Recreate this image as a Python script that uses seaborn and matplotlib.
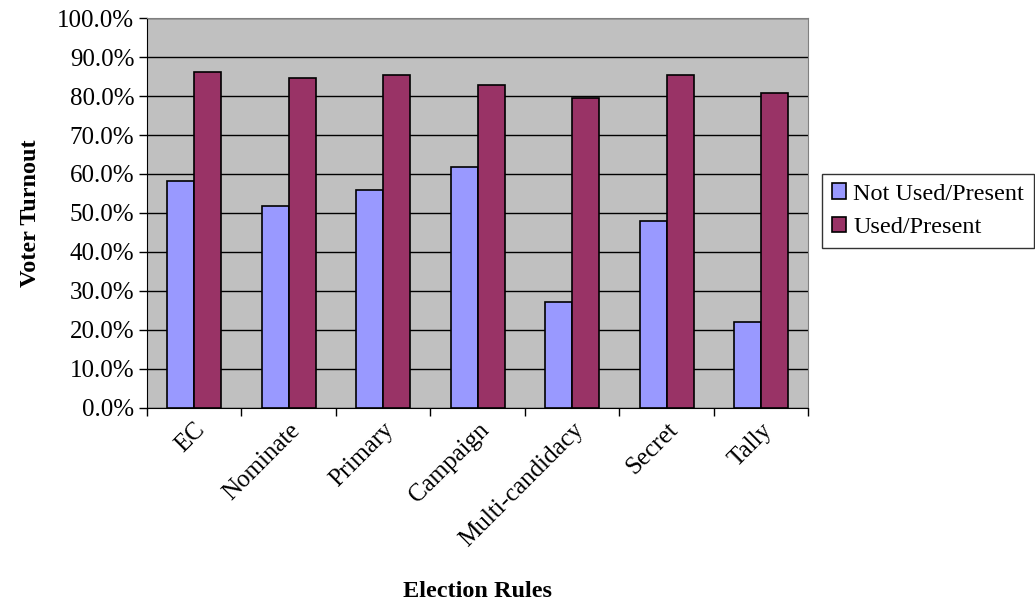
import pandas as pd
import seaborn as sns
import matplotlib.pyplot as plt
from matplotlib.ticker import PercentFormatter, FixedLocator

rules = ['EC', 'Nominate', 'Primary', 'Campaign', 'Multi-candidacy', 'Secret', 'Tally']
not_used = [58.2, 51.7, 56.0, 61.8, 27.2, 48.0, 21.9]
used = [86.2, 84.6, 85.3, 82.9, 79.6, 85.3, 80.9]
series = ['Not Used/Present', 'Used/Present']
colors = ['#9999FF', '#993366']

df = pd.DataFrame({
    'Rule': rules * 2,
    'Status': [series[0]] * len(rules) + [series[1]] * len(rules),
    'Turnout': not_used + used,
})

sns.set_style('white')
plt.rcParams['font.family'] = ['Liberation Serif', 'DejaVu Serif']
plt.rcParams['text.color'] = 'black'
plt.rcParams['xtick.color'] = 'black'
plt.rcParams['ytick.color'] = 'black'
plt.rcParams['axes.labelcolor'] = 'black'

fig = plt.figure(figsize=(10.35, 6.05), dpi=100)
ax = fig.add_axes([0.142, 0.326, 0.639, 0.644])
ax.set_facecolor('#C0C0C0')

sns.barplot(data=df, x='Rule', y='Turnout', hue='Status', palette=colors,
            saturation=1, width=0.57, edgecolor='black', linewidth=1.2,
            ax=ax, zorder=3)

ax.set_ylim(0, 100)
ax.set_xlim(-0.5, len(rules) - 0.5)
ax.set_yticks(range(0, 101, 10))
ax.yaxis.set_major_formatter(PercentFormatter(decimals=1))
ax.grid(axis='y', color='black', linewidth=1.0, zorder=0)
ax.set_axisbelow(True)

ax.tick_params(axis='y', direction='out', length=6, width=1,
               labelsize=18, left=True, pad=3)
ax.tick_params(axis='x', which='major', length=0, labelsize=18, pad=8)
ax.xaxis.set_minor_locator(FixedLocator([i - 0.5 for i in range(len(rules) + 1)]))
ax.tick_params(axis='x', which='minor', direction='out', length=6, width=1,
               bottom=True)
plt.setp(ax.get_xticklabels(), rotation=45, ha='right', rotation_mode='anchor')

for s in ['top', 'right']:
    ax.spines[s].set_color('#808080')
for s in ['left', 'bottom']:
    ax.spines[s].set_color('black')

ax.set_ylabel('Voter Turnout', fontsize=17.5, fontweight='bold', labelpad=12)
ax.set_xlabel('')
fig.text(0.461, 0.005, 'Election Rules', fontsize=17.5, fontweight='bold',
         ha='center', va='bottom')

ax.legend_.remove()
handles, labels = ax.get_legend_handles_labels()
leg = fig.legend(handles, labels, loc='upper left', bbox_to_anchor=(0.794, 0.713),
                 fontsize=17.5, frameon=True, fancybox=False, edgecolor='black',
                 handlelength=0.6, handleheight=0.6, handletextpad=0.3,
                 borderpad=0.4, labelspacing=0.5, borderaxespad=0)
leg.get_frame().set_linewidth(1)

fig.savefig('out.png', dpi=100)
